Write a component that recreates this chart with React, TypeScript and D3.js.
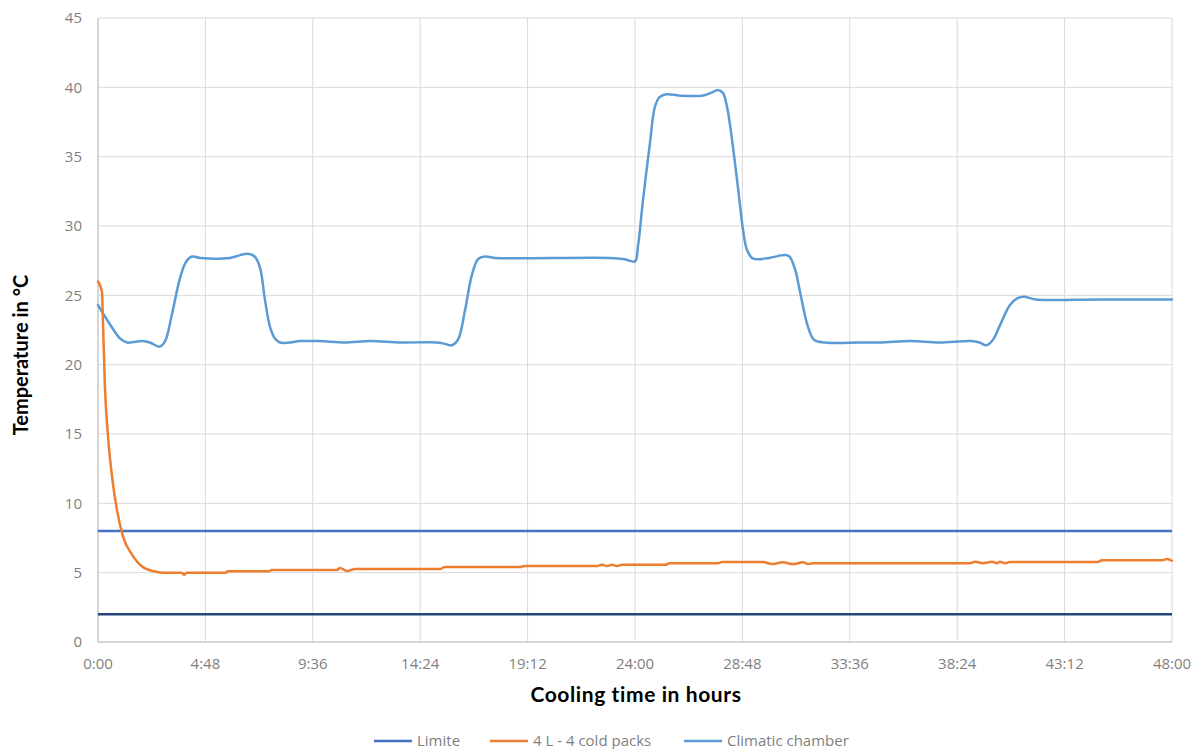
import React from "react";
import * as d3 from "d3";

const W = 1202;
const H = 749;

// Time in hours, temperature in °C
const chamberHours = [0, 0.54, 0.98, 1.3, 1.97, 2.32, 2.75, 3.0, 3.3, 3.66, 3.93, 4.2, 4.56, 5.9, 6.35, 6.7, 7.0, 7.24, 7.46, 7.69, 7.9, 8.13, 8.58, 9.03, 9.92, 11.04, 12.16, 13.5, 15.15, 15.5, 15.82, 16.09, 16.4, 16.7, 16.98, 17.3, 17.74, 22.88, 23.55, 24.0, 24.13, 24.36, 24.67, 24.89, 25.1, 25.4, 26.0, 27.0, 27.4, 27.7, 27.93, 28.07, 28.16, 28.38, 28.6, 28.83, 29.0, 29.23, 29.45, 30.0, 30.7, 30.9, 31.15, 31.37, 31.7, 32.0, 32.5, 34.05, 35.0, 36.3, 37.6, 39.0, 39.4, 39.7, 40.0, 40.3, 40.76, 41.1, 41.4, 41.9, 44.8, 48];
const chamberTemps = [24.3, 22.9, 21.9, 21.6, 21.7, 21.6, 21.3, 21.7, 23.6, 26.2, 27.4, 27.8, 27.7, 27.7, 27.9, 28.0, 27.8, 27.0, 24.7, 22.7, 21.9, 21.6, 21.6, 21.7, 21.7, 21.6, 21.7, 21.6, 21.6, 21.5, 21.4, 21.8, 23.9, 26.4, 27.6, 27.8, 27.7, 27.7, 27.6, 27.45, 28.5, 31.9, 36.0, 38.6, 39.3, 39.5, 39.4, 39.4, 39.6, 39.8, 39.6, 38.9, 38.2, 35.7, 32.8, 29.7, 28.3, 27.7, 27.6, 27.7, 27.9, 27.8, 26.9, 25.3, 22.9, 21.8, 21.6, 21.6, 21.6, 21.7, 21.6, 21.7, 21.6, 21.4, 21.8, 22.8, 24.3, 24.8, 24.9, 24.7, 24.7, 24.7];

const packHours = [0, 0.18, 0.22, 0.31, 0.45, 0.63, 0.85, 1.12, 1.52, 2.01, 2.64, 2.9, 3.75, 3.85, 3.95, 5.7, 5.8, 7.65, 7.75, 10.68, 10.82, 11.13, 11.49, 15.28, 15.51, 18.86, 19.08, 22.3, 22.53, 22.75, 22.97, 23.2, 23.42, 25.34, 25.56, 27.71, 27.89, 29.72, 30.12, 30.61, 31.06, 31.51, 31.73, 31.96, 38.97, 39.2, 39.55, 39.96, 40.18, 40.31, 40.54, 40.76, 44.69, 44.87, 47.55, 47.78, 48];
const packTemps = [26.0, 25.2, 23.2, 18.4, 14.8, 11.9, 9.5, 7.6, 6.3, 5.4, 5.05, 5.0, 5.0, 4.85, 5.0, 5.0, 5.1, 5.1, 5.2, 5.19, 5.34, 5.12, 5.26, 5.26, 5.41, 5.41, 5.48, 5.48, 5.57, 5.48, 5.57, 5.48, 5.57, 5.57, 5.68, 5.68, 5.77, 5.77, 5.62, 5.75, 5.62, 5.75, 5.62, 5.68, 5.68, 5.79, 5.68, 5.79, 5.68, 5.79, 5.68, 5.77, 5.77, 5.89, 5.89, 5.99, 5.86];

const limitUpper = 8;
const limitLower = 2;

const xTickHours = [0, 4.8, 9.6, 14.4, 19.2, 24, 28.8, 33.6, 38.4, 43.2, 48];
const xTickLabels = ["0:00", "4:48", "9:36", "14:24", "19:12", "24:00", "28:48", "33:36", "38:24", "43:12", "48:00"];
const yTicks = [0, 5, 10, 15, 20, 25, 30, 35, 40, 45];

const legendLabels = ["Limite", "4 L - 4 cold packs", "Climatic chamber"];

const C_LIMIT = "#4472C4";
const C_LIMIT2 = "#264478";
const C_PACK = "#ED7D31";
const C_CHAMBER = "#5B9BD5";

export default function App() {
  const left = 98, right = 1172, top = 18, bottom = 642;
  const x = d3.scaleLinear().domain([0, 48]).range([left, right]);
  const y = d3.scaleLinear().domain([0, 45]).range([bottom, top]);

  const chamberLine = d3
    .line<[number, number]>()
    .x((d) => x(d[0]))
    .y((d) => y(d[1]))
    .curve(d3.curveCatmullRom.alpha(0.5));
  const packLine = d3
    .line<[number, number]>()
    .x((d) => x(d[0]))
    .y((d) => y(d[1]))
    .curve(d3.curveMonotoneX);

  const chamberPath = chamberLine(chamberHours.map((h, i) => [h, chamberTemps[i]]) as [number, number][]) || "";
  const packPath = packLine(packHours.map((h, i) => [h, packTemps[i]]) as [number, number][]) || "";

  const tickFont = "'Open Sans', 'DejaVu Sans', sans-serif";
  const titleFont = "Lato, 'Open Sans', sans-serif";

  const legendItems = [
    { label: legendLabels[0], color: C_LIMIT, x1: 374 },
    { label: legendLabels[1], color: C_PACK, x1: 490 },
    { label: legendLabels[2], color: C_CHAMBER, x1: 684 },
  ];

  return (
    <div style={{ position: "absolute", left: 0, top: 0 }}>
      <svg width={W} height={H} style={{ display: "block", background: "#fff" }}>
        {/* grid */}
        {yTicks.map((t) => (
          <line key={"gy" + t} x1={left} x2={right} y1={y(t)} y2={y(t)} stroke="#d9d9d9" strokeWidth={1} />
        ))}
        {xTickHours.map((t) => (
          <line key={"gx" + t} x1={x(t)} x2={x(t)} y1={top} y2={bottom} stroke="#d9d9d9" strokeWidth={1} />
        ))}
        {/* axes */}
        <line x1={left} x2={left} y1={top} y2={bottom} stroke="#bfbfbf" strokeWidth={1} />
        <line x1={left} x2={right} y1={bottom} y2={bottom} stroke="#bfbfbf" strokeWidth={1} />

        {/* y tick labels */}
        {yTicks.map((t) => (
          <text key={"ty" + t} x={82} y={y(t)} dy="0.35em" textAnchor="end" fontFamily={tickFont} fontSize={15} fill="#7f7f7f">
            {t}
          </text>
        ))}
        {/* x tick labels */}
        {xTickHours.map((t, i) => (
          <text key={"tx" + t} x={x(t)} y={664} dy="0.35em" textAnchor="middle" fontFamily={tickFont} fontSize={15} fill="#7f7f7f">
            {xTickLabels[i]}
          </text>
        ))}

        {/* limits */}
        <line x1={x(0)} x2={x(48)} y1={y(limitUpper)} y2={y(limitUpper)} stroke={C_LIMIT} strokeWidth={2.5} />
        <line x1={x(0)} x2={x(48)} y1={y(limitLower)} y2={y(limitLower)} stroke={C_LIMIT2} strokeWidth={2.5} />

        {/* series */}
        <path d={chamberPath} fill="none" stroke={C_CHAMBER} strokeWidth={2.5} strokeLinejoin="round" strokeLinecap="round" />
        <path d={packPath} fill="none" stroke={C_PACK} strokeWidth={2.5} strokeLinejoin="round" strokeLinecap="round" />

        {/* axis titles */}
        <text x={636} y={695} dy="0.35em" textAnchor="middle" fontFamily={titleFont} fontWeight={700} fontSize={21} letterSpacing={0.6} fill="#000">
          Cooling time in hours
        </text>
        <text
          transform={`translate(21, ${355}) rotate(-90)`}
          dy="0.35em"
          textAnchor="middle"
          fontFamily={titleFont}
          fontWeight={700}
          fontSize={20}
          fill="#000"
        >
          Temperature in °C
        </text>

        {/* legend */}
        {legendItems.map((it) => (
          <g key={it.label}>
            <line x1={it.x1} x2={it.x1 + 38} y1={741} y2={741} stroke={it.color} strokeWidth={2.5} />
            <text x={it.x1 + 43} y={741} dy="0.35em" fontFamily={tickFont} fontSize={15} fill="#7f7f7f">
              {it.label}
            </text>
          </g>
        ))}
      </svg>
    </div>
  );
}
